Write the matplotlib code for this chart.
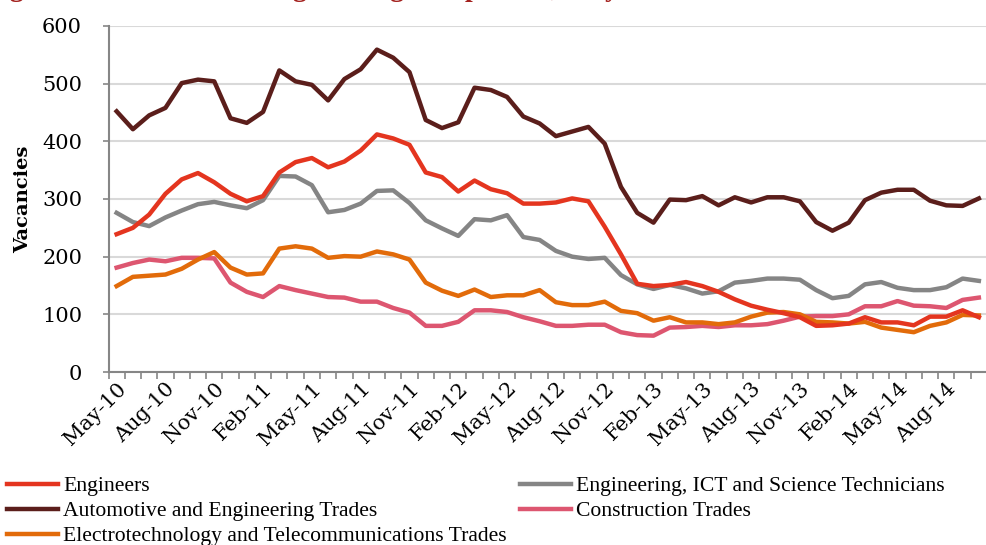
import numpy as np
import matplotlib
matplotlib.use('Agg')
import matplotlib.pyplot as plt

plt.rcParams['font.family'] = ['DejaVu Serif']

# Monthly vacancies, May-10 .. Oct-14
engineers = [239, 250, 273, 309, 334, 345, 329, 309, 296, 305,
             346, 364, 371, 355, 365, 384, 412, 405, 394, 346,
             338, 313, 332, 317, 310, 292, 292, 294, 301, 296,
             252, 204, 153, 149, 151, 156, 149, 139, 126, 115,
             108, 102, 95, 80, 81, 84, 95, 86, 86, 81,
             96, 96, 107, 95]
automotive = [452, 421, 445, 458, 501, 507, 504, 440, 432, 451,
              523, 504, 498, 471, 508, 525, 559, 545, 520, 437,
              423, 433, 493, 489, 477, 443, 431, 409, 417, 425,
              396, 321, 276, 259, 299, 298, 305, 289, 303, 294,
              303, 303, 296, 260, 245, 259, 298, 311, 316, 316,
              297, 289, 288, 301]
electro = [149, 165, 167, 169, 179, 195, 208, 181, 169, 171,
           214, 218, 214, 198, 201, 200, 209, 204, 195, 155,
           141, 132, 143, 130, 133, 133, 142, 121, 116, 116,
           122, 106, 102, 89, 95, 86, 86, 83, 86, 96,
           103, 104, 100, 87, 86, 84, 87, 77, 73, 69,
           80, 86, 99, 98]
technicians = [276, 260, 253, 268, 280, 291, 295, 289, 284, 298,
               340, 339, 324, 277, 281, 292, 314, 315, 293, 263,
               249, 236, 265, 263, 272, 234, 229, 210, 200, 196,
               198, 168, 152, 144, 151, 145, 136, 140, 155, 158,
               162, 162, 160, 142, 128, 132, 152, 156, 146, 142,
               142, 147, 162, 158]
construction = [181, 189, 195, 192, 198, 198, 197, 155, 139, 130,
                149, 142, 136, 130, 129, 122, 122, 111, 103, 80,
                80, 87, 107, 107, 104, 95, 88, 80, 80, 82,
                82, 69, 64, 63, 77, 78, 80, 78, 81, 81,
                83, 89, 96, 97, 97, 100, 114, 114, 123, 115,
                114, 111, 125, 129]

tick_labels = ['May-10', 'Aug-10', 'Nov-10', 'Feb-11', 'May-11', 'Aug-11',
               'Nov-11', 'Feb-12', 'May-12', 'Aug-12', 'Nov-12', 'Feb-13',
               'May-13', 'Aug-13', 'Nov-13', 'Feb-14', 'May-14', 'Aug-14']

series = [
    ('Engineers', engineers, '#E4351F', 5),
    ('Automotive and Engineering Trades', automotive, '#5B1E1B', 5),
    ('Electrotechnology and Telecommunications Trades', electro, '#E26B0A', 4),
    ('Engineering, ICT and Science Technicians', technicians, '#858585', 3),
    ('Construction Trades', construction, '#DD5670', 3),
]

fig = plt.figure(figsize=(9.87, 5.45), dpi=100)
ax = fig.add_axes([108.5 / 987, 173 / 545, (987 - 108.5) / 987, 346 / 545])

x = np.arange(len(engineers))
handles = []
for name, vals, col, zo in series:
    h, = ax.plot(x, vals, color=col, linewidth=3.2, label=name, zorder=zo)
    handles.append(h)

ax.set_xlim(-0.5, 52.84)
ax.set_ylim(0, 600)
ax.set_yticks(np.arange(0, 601, 100))
ax.yaxis.grid(True, color='#D9D9D9', linewidth=1.5)
ax.set_axisbelow(True)

ax.set_xticks(np.arange(0, len(tick_labels) * 3, 3))
ax.set_xticklabels(tick_labels, rotation=45, ha='right', rotation_mode='anchor',
                   fontsize=15)
ax.set_xticks(np.arange(-0.5, 54, 1), minor=True)
ax.tick_params(axis='x', which='major', length=0, pad=5)
ax.tick_params(axis='x', which='minor', length=5, width=1.2, color='#868686')
ax.tick_params(axis='y', length=4, width=1.2, color='#868686', labelsize=15, pad=15)

for s in ['top', 'right']:
    ax.spines[s].set_visible(False)
for s in ['left', 'bottom']:
    ax.spines[s].set_color('#868686')
    ax.spines[s].set_linewidth(1.5)

ax.set_ylabel('Vacancies', fontsize=14, fontweight='bold')
ax.yaxis.set_label_coords(-0.087, 0.5)

fig.legend(handles=handles, loc='upper left', bbox_to_anchor=(-0.002, 0.142),
           ncol=2, frameon=False, handlelength=2.35,
           prop={'family': 'Liberation Serif', 'size': 15.6},
           handletextpad=0.25, columnspacing=0.6, labelspacing=0.22,
           borderaxespad=0)

# cropped figure caption at the very top
fig.text(-0.015, 1.0 + 4 / 545, 'Figure 4: Vacancies for engineering occupations, May 2010 to October 2014',
         color='#A3201D', fontsize=20, fontweight='bold', ha='left', va='baseline',
         family='Liberation Serif')

fig.savefig('out.png', dpi=100, facecolor='white')
